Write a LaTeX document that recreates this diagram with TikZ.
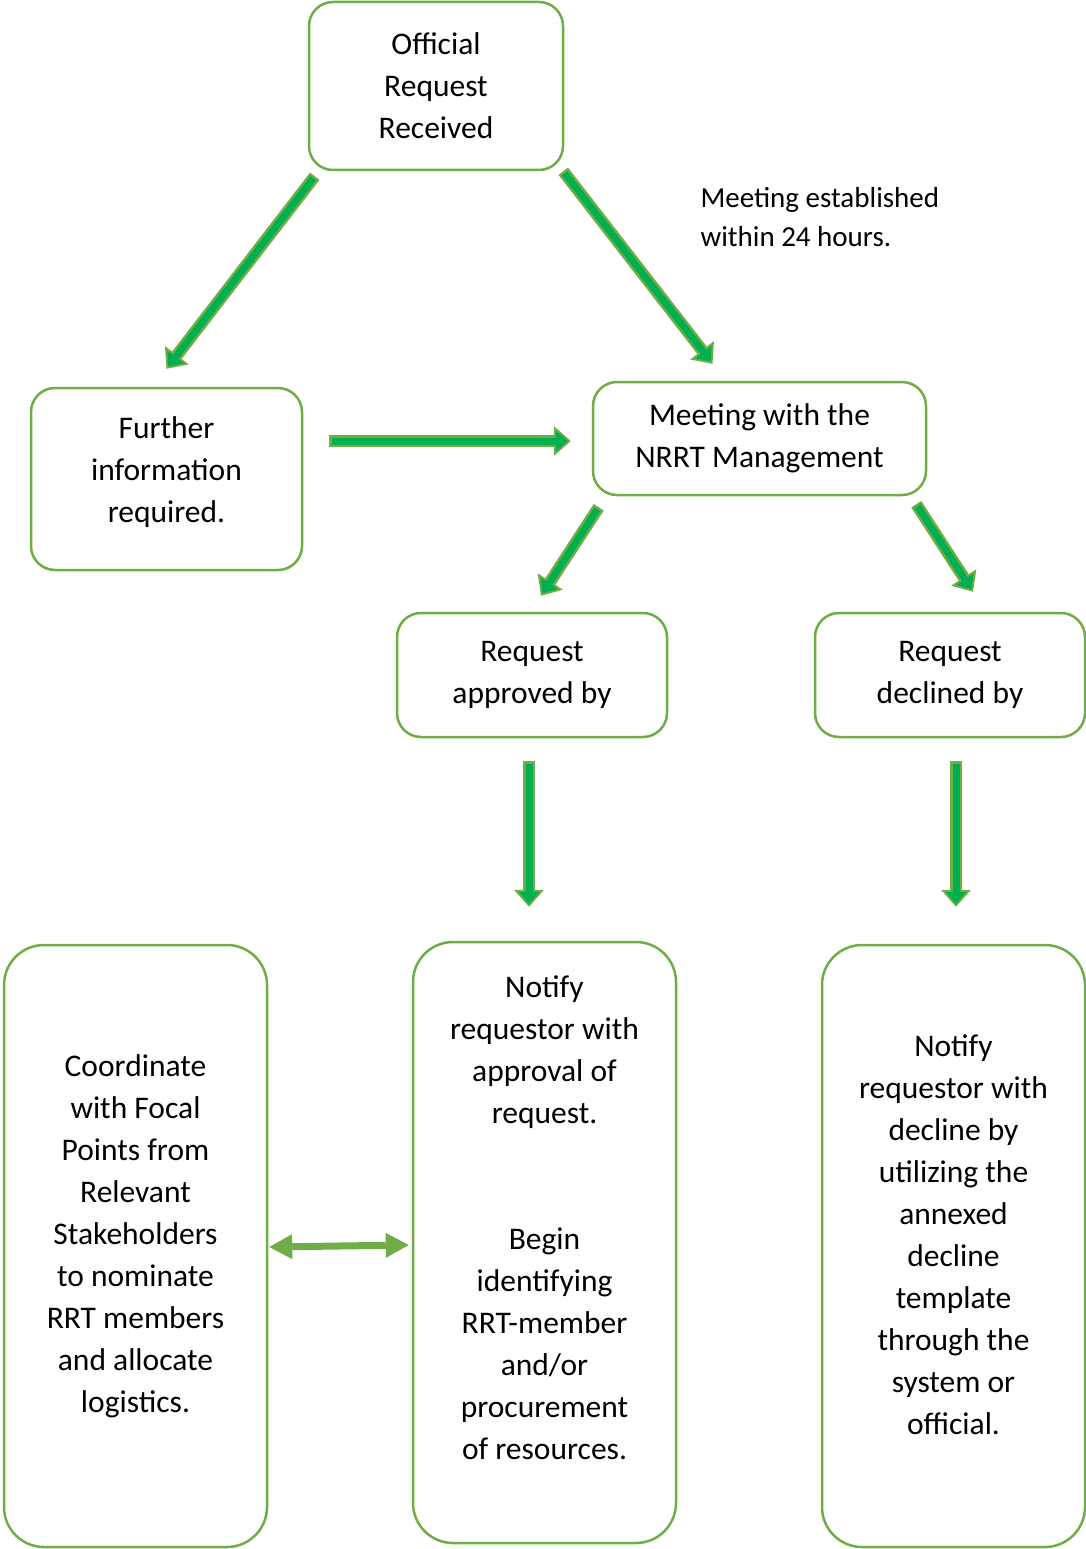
\documentclass[tikz,border=0pt]{standalone}
\usepackage{fontspec}
\setmainfont{Carlito}
\usetikzlibrary{arrows.meta}
\definecolor{rrtedge}{RGB}{112,173,71}
\definecolor{rrtarrow}{RGB}{0,176,80}

\begin{document}
\begin{tikzpicture}[x=1pt,y=-1pt,
  box/.style={draw=rrtedge, line width=2.5pt, rounded corners=24pt, align=center, inner sep=0pt,
    font=\fontsize{31.5}{42}\selectfont},
  tallbox/.style={box, rounded corners=40pt, minimum width=263pt, minimum height=602pt},
  blockarrow/.style={draw=rrtedge, line width=12pt, -{Triangle[length=17pt,width=30pt,line width=0pt]},
    postaction={draw=rrtarrow, line width=7pt, shorten >=3pt, shorten <=2.5pt,
      -{Triangle[length=12pt,width=21pt,line width=0pt]}}},
  twoway/.style={draw=rrtedge, line width=7pt,
    {Triangle[length=23pt,width=25pt,line width=0pt]}-{Triangle[length=23pt,width=25pt,line width=0pt]}}]

\useasboundingbox (0,0) rectangle (1086,1549);

% top of the flow
\node[box, minimum width=254pt, minimum height=168pt] (official) at (436,86) {Official\\Request\\Received};
\node[box, minimum width=271pt, minimum height=182pt] (further) at (166.5,479) {Further\\information\\required.\\[-23pt]\mbox{}};
\node[box, minimum width=333pt, minimum height=113pt] (meeting) at (759.5,438.5) {Meeting with the\\NRRT Management};
\node[anchor=west, align=left, font=\fontsize{29}{39}\selectfont] (within) at (697,217.5) {Meeting established\\within 24 hours.};

% decision
\node[box, minimum width=270pt, minimum height=124pt] (approved) at (532,675) {Request\\approved by};
\node[box, minimum width=270pt, minimum height=124pt] (declined) at (950,675) {Request\\declined by};

% actions
\node[tallbox] (coordinate) at (135.5,1246) {Coordinate\\with Focal\\Points from\\Relevant\\Stakeholders\\to nominate\\RRT members\\and allocate\\logistics.\\[-17pt]\mbox{}};
\node[tallbox, minimum height=601pt] (notifyok) at (544.5,1242.5) {Notify\\requestor with\\approval of\\request.\\[84pt]Begin\\identifying\\RRT-member\\and/or\\procurement\\of resources.\\[8pt]\mbox{}};
\node[tallbox] (notifyno) at (953.5,1246) {Notify\\requestor with\\decline by\\utilizing the\\annexed\\decline\\template\\through the\\system or\\official.\\[-20pt]\mbox{}};

\draw[blockarrow] ([shift={(7,5)}]official.south west) -- ([shift={(0,-18)}]further.north);
\draw[blockarrow] ([shift={(-1,0)}]official.south east) -- ([shift={(-47,-17)}]meeting.north);
\draw[blockarrow] ([shift={(26,-38)}]further.east) -- ([shift={(-21,2.5)}]meeting.west);
\draw[blockarrow] ([shift={(7,11)}]meeting.south west) -- ([shift={(9,-16)}]approved.north);
\draw[blockarrow] ([shift={(-11,8)}]meeting.south east) -- ([shift={(23,-20)}]declined.north);
\draw[blockarrow] ([shift={(-3,23)}]approved.south) -- ([shift={(-15.5,-34)}]notifyok.north);
\draw[blockarrow] ([shift={(6,23)}]declined.south) -- ([shift={(2.5,-37)}]notifyno.north);
\draw[twoway] ([shift={(1,1)}]coordinate.east) -- ([shift={(-3,2.5)}]notifyok.west);

\end{tikzpicture}
\end{document}
